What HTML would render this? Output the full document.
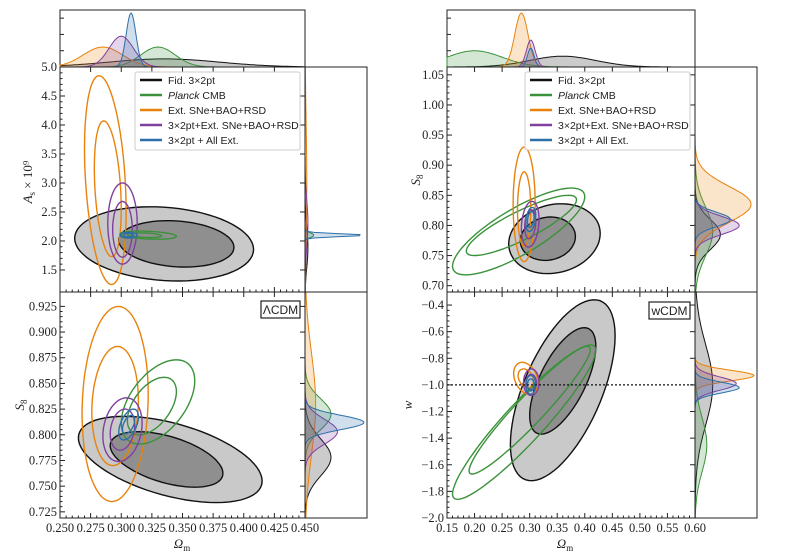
<!DOCTYPE html>
<html><head><meta charset="utf-8"><style>
body{margin:0;background:#fff;}
svg{display:block;}
</style></head><body>
<svg id="c" width="800" height="558" viewBox="0 0 800 558" xmlns="http://www.w3.org/2000/svg"></svg>
<script>
// series: 0 black, 1 green, 2 orange, 3 purple, 4 blue
const seriesNames = ["Fid. 3×2pt","Planck CMB","Ext. SNe+BAO+RSD","3×2pt+Ext. SNe+BAO+RSD","3×2pt + All Ext."];
const seriesColors = ["#111111","#3a923a","#e8820c","#8040a0","#2c6fa8"];
// contours: [series, cx, cy, sx, sy, rho]
const ulContours = [[0,0.335,1.95,0.073,0.64,-0.15],[0,0.345,1.95,0.047,0.4,-0.15],[2,0.287,3.05,0.017,1.8,-0.3],[2,0.289,2.9,0.011,1.17,-0.3],[3,0.301,2.3,0.012,0.7,0],[3,0.301,2.2,0.008,0.48,0],[1,0.322,2.1,0.023,0.07,-0.3],[1,0.319,2.1,0.014,0.04,-0.3],[4,0.306,2.1,0.007,0.05,0],[4,0.306,2.1,0.004,0.03,0]];
const llContours = [[0,0.34,0.776,0.075,0.042,-0.5],[0,0.337,0.776,0.046,0.027,-0.5],[2,0.295,0.83,0.027,0.095,0.1],[2,0.295,0.828,0.019,0.058,0.1],[1,0.33,0.832,0.03,0.041,0.5],[1,0.325,0.828,0.02,0.028,0.5],[3,0.301,0.805,0.016,0.031,0.2],[3,0.301,0.805,0.01,0.02,0.2],[4,0.306,0.81,0.008,0.015,0.5],[4,0.306,0.81,0.005,0.009,0.5]];
const urContours = [[0,0.345,0.778,0.083,0.058,0.15],[0,0.333,0.778,0.05,0.036,0.1],[1,0.28,0.79,0.12,0.072,0.8],[1,0.285,0.8,0.1,0.05,0.85],[2,0.29,0.835,0.02,0.095,0],[2,0.29,0.827,0.012,0.062,0],[3,0.301,0.802,0.016,0.038,0.2],[3,0.301,0.802,0.01,0.024,0.2],[4,0.302,0.81,0.009,0.02,0.3],[4,0.302,0.81,0.006,0.013,0.3]];
const lrContours = [[0,0.36,-1.04,0.095,0.68,0.6],[0,0.36,-0.97,0.06,0.4,0.65],[1,0.29,-1.28,0.13,0.58,0.93],[1,0.30,-1.19,0.11,0.48,0.95],[2,0.293,-0.95,0.022,0.12,-0.3],[2,0.293,-0.95,0.014,0.07,-0.3],[3,0.303,-0.98,0.014,0.1,0],[3,0.303,-0.98,0.009,0.06,0],[4,0.302,-1.0,0.009,0.07,0],[4,0.302,-1.0,0.006,0.045,0]];
// marginals: [series, mean, sd, relHeight]
const lTopMarg = [[0,0.335,0.045,0.15],[1,0.33,0.014,0.37],[2,0.285,0.016,0.37],[3,0.3,0.01,0.57],[4,0.308,0.004,1.0]];
const lAsMarg = [[0,1.9,0.35,0.05],[1,2.1,0.04,0.15],[2,3.0,1.1,0.03],[3,2.3,0.4,0.05],[4,2.1,0.025,1.0]];
const lS8Marg = [[0,0.778,0.018,0.44],[1,0.82,0.015,0.44],[2,0.83,0.05,0.18],[3,0.803,0.012,0.55],[4,0.812,0.007,1.0]];
const rTopMarg = [[0,0.36,0.06,0.2],[1,0.2,0.05,0.3],[2,0.285,0.012,1.0],[3,0.302,0.008,0.5],[4,0.302,0.006,0.35]];
const rS8Marg = [[0,0.785,0.025,0.43],[1,0.79,0.04,0.3],[2,0.835,0.03,0.95],[3,0.8,0.015,0.75],[4,0.81,0.012,0.6]];
const rWMarg = [[0,-1.0,0.3,0.3],[1,-1.45,0.2,0.2],[2,-0.93,0.04,1.0],[3,-0.99,0.05,0.7],[4,-1.02,0.04,0.75]];
const lXTicks = [0.25,0.275,0.3,0.325,0.35,0.375,0.4,0.425,0.45];
const rXTicks = [0.15,0.2,0.25,0.3,0.35,0.4,0.45,0.5,0.55,0.6];
const ulYTicks = [1.5,2.0,2.5,3.0,3.5,4.0,4.5,5.0];
const llYTicks = [0.725,0.75,0.775,0.8,0.825,0.85,0.875,0.9,0.925];
const urYTicks = [0.7,0.75,0.8,0.85,0.9,0.95,1.0,1.05];
const lrYTicks = [-2.0,-1.8,-1.6,-1.4,-1.2,-1.0,-0.8,-0.6,-0.4];

const SERIF='"Liberation Serif", serif';
const SANS='"Liberation Sans", sans-serif';
const svg=document.getElementById('c');
const NS='http://www.w3.org/2000/svg';
function mk(tag,at,parent){const e=document.createElementNS(NS,tag);for(const k in at)e.setAttribute(k,at[k]);(parent||svg).appendChild(e);return e;}
function lin(d0,d1,p0,p1){return v=>p0+(v-d0)/(d1-d0)*(p1-p0);}
function contourPath(c,sx,sy){let d='';for(let i=0;i<=72;i++){const t=i/72*2*Math.PI;const x=c[1]+c[3]*Math.cos(t);const y=c[2]+c[4]*(c[5]*Math.cos(t)+Math.sqrt(1-c[5]*c[5])*Math.sin(t));d+=(i?'L':'M')+sx(x).toFixed(1)+','+sy(y).toFixed(1);}return d+'Z';}
function fmt(v,dp){return v.toFixed(dp).replace('-','−');}
const tkAt={'font-family':SERIF,'font-size':12.5,fill:'#222'};

function panel(name,cons,sx,sy,x0,x1,y0,y1,yt,ydp,showX,xt,xdp){
  const g=mk('g',{});
  
  
  const cp=mk('clipPath',{id:'cp'+name},g);mk('rect',{x:x0,y:y0,width:x1-x0,height:y1-y0},cp);
  const cg=mk('g',{'clip-path':'url(#cp'+name+')'},g);
  cons.forEach((c,i)=>{
    let fill='none';
    if(c[0]===0) fill=(i===0)?'#c9c9c9':'#8f8f8f';
    const p=mk('path',{d:contourPath(c,sx,sy),fill:fill,stroke:seriesColors[c[0]],'stroke-width':1.4},cg);
    
    
  });
  mk('rect',{x:x0,y:y0,width:x1-x0,height:y1-y0,fill:'none',stroke:'#222','stroke-width':1},g);
  yt.forEach(v=>{const y=sy(v);mk('line',{x1:x0,x2:x0+5,y1:y,y2:y,stroke:'#222'},g);mk('line',{x1:x1,x2:x1-5,y1:y,y2:y,stroke:'#222'},g);
    const t=mk('text',Object.assign({x:x0-3,y:y+4,'text-anchor':'end'},tkAt),g);t.textContent=fmt(v,ydp);
    
    });
  for(let i=0;i<yt.length-1;i++){for(let k=1;k<5;k++){const y=sy(yt[i]+(yt[i+1]-yt[i])*k/5);mk('line',{x1:x0,x2:x0+2.5,y1:y,y2:y,stroke:'#222'},g);}}
  xt.forEach((v,i)=>{const x=sx(v);mk('line',{x1:x,x2:x,y1:y1,y2:y1-5,stroke:'#222'},g);mk('line',{x1:x,x2:x,y1:y0,y2:y0+5,stroke:'#222'},g);
    if(showX){const t=mk('text',Object.assign({x:x,y:y1+14,'text-anchor':'middle'},tkAt),g);t.textContent=fmt(v,xdp);
      
      }
    if(i<xt.length-1){for(let k=1;k<5;k++){const xx=sx(v+(xt[i+1]-v)*k/5);mk('line',{x1:xx,x2:xx,y1:y1,y2:y1-2.5,stroke:'#222'},g);}}});
  return g;
}
function margTop(name,m,sx,x0,x1,yb,yt){
  const g=mk('g',{});
  
  
  mk('path',{d:`M${x0},${yb}V${yt}H${x1}V${yb}`,fill:'none',stroke:'#222'},g);
  const h=yb-yt-3;
  m.forEach(s=>{let d='M'+x0+','+yb;for(let i=0;i<=200;i++){const v=sx.inv(x0+(x1-x0)*i/200);const yy=yb-h*s[3]*Math.exp(-0.5*((v-s[1])/s[2])**2);d+='L'+(x0+(x1-x0)*i/200).toFixed(1)+','+yy.toFixed(1);}d+='L'+x1+','+yb+'Z';
    const p=mk('path',{d:d,fill:seriesColors[s[0]],'fill-opacity':0.22,stroke:seriesColors[s[0]],'stroke-width':1},g);
    
    });
  for(let k=1;k<4;k++){const y=yb-(yb-yt)*k/3.5;mk('line',{x1:x0,x2:x0+4,y1:y,y2:y,stroke:'#222'},g);}
}
function margRight(name,m,sy,y0,y1,xl,xr){
  const g=mk('g',{});
  
  
  const cp=mk('clipPath',{id:'cp'+name},g);mk('rect',{x:xl,y:y0,width:xr-xl,height:y1-y0},cp);
  const cg=mk('g',{'clip-path':'url(#cp'+name+')'},g);
  const w=xr-xl-3;
  m.forEach(s=>{let d='M'+xl+','+y0;for(let i=0;i<=200;i++){const y=y0+(y1-y0)*i/200;const v=sy.inv(y);const xx=xl+w*s[3]*Math.exp(-0.5*((v-s[1])/s[2])**2);d+='L'+xx.toFixed(1)+','+y.toFixed(1);}d+='L'+xl+','+y1+'Z';
    const p=mk('path',{d:d,fill:seriesColors[s[0]],'fill-opacity':0.22,stroke:seriesColors[s[0]],'stroke-width':1},cg);
    
    });
  mk('path',{d:`M${xl},${y0}H${xr}V${y1}H${xl}Z`,fill:'none',stroke:'#222'},g);
}
function scale(d0,d1,p0,p1){const f=lin(d0,d1,p0,p1);f.inv=lin(p0,p1,d0,d1);return f;}
function legend(x,y){
  const g=mk('g',{});
  
  
  mk('rect',{x:x,y:y,width:165,height:78,fill:'#fff','fill-opacity':0.85,stroke:'#ccc',rx:2},g);
  seriesNames.forEach((n,i)=>{const yy=y+8+i*15;mk('line',{x1:x+5,x2:x+27,y1:yy,y2:yy,stroke:seriesColors[i],'stroke-width':2.5},g);
    const t=mk('text',{x:x+33,y:yy+4,'font-family':SANS,'font-size':10.5,fill:'#222'},g);
    
    
    if(i===1){const a=mk('tspan',{'font-style':'italic'},t);a.textContent='Planck';const b=mk('tspan',{},t);b.textContent=' CMB';}else t.textContent=n;});
}
function label(txt,x,y,rot,name,sub,tail){
  const t=mk('text',{x:x,y:y,'font-family':SERIF,'font-size':13,fill:'#222','text-anchor':'middle',transform:rot?`rotate(-90 ${x} ${y})`:''});
  
  
  const m=mk('tspan',{'font-style':'italic'},t);m.textContent=txt;
  if(sub){const s=mk('tspan',{'font-size':9,dy:3},t);s.textContent=sub;}
  if(tail){const s=mk('tspan',{dy:sub?-3:0},t);s.textContent=tail;}
}
function boxLabel(txt,x,y,w,name){
  const g=mk('g',{});
  
  
  mk('rect',{x:x,y:y,width:w,height:17,fill:'#fff',stroke:'#222','stroke-width':1.2},g);
  const t=mk('text',{x:x+w/2,y:y+13,'text-anchor':'middle','font-family':SANS,'font-size':12,fill:'#222'},g);t.textContent=txt;
}
// left
const lx=scale(0.25,0.45,60,305);
const ulY=scale(1.12,5.0,292,67);
const llY=scale(0.719,0.939,518,292);
margTop('left-top-marginal',lTopMarg,lx,60,305,67,10);
panel('as-vs-omegam-panel',ulContours,lx,ulY,60,305,67,292,ulYTicks,1,false,lXTicks,3);
panel('s8-vs-omegam-lcdm-panel',llContours,lx,llY,60,305,292,518,llYTicks,3,true,lXTicks,3);
margRight('as-marginal',lAsMarg,ulY,67,292,305,367);
margRight('s8-marginal-left',lS8Marg,llY,292,518,305,367);
legend(135,72);
boxLabel('ΛCDM',261,301,39,'lcdm-label');
// right
const rx=scale(0.15,0.6,447,695);
const urY=scale(0.6895,1.063,292,67);
const lrY=scale(-2.0,-0.302,518,292);
margTop('right-top-marginal',rTopMarg,rx,447,695,67,10);
panel('s8-vs-omegam-wcdm-panel',urContours,rx,urY,447,695,67,292,urYTicks,2,false,rXTicks,2);
panel('w-vs-omegam-panel',lrContours,rx,lrY,447,695,292,518,lrYTicks,1,true,rXTicks,2);
const dl=mk('line',{x1:447,x2:695,y1:lrY(-1),y2:lrY(-1),stroke:'#111','stroke-dasharray':'2,2','stroke-width':1.3});


margRight('s8-marginal-right',rS8Marg,urY,67,292,695,757);
margRight('w-marginal',rWMarg,lrY,292,518,695,757);
legend(525,72);
boxLabel('wCDM',649,302,41,'wcdm-label');
label('Ω',182,548,false,'x-axis-title-left','m');
label('Ω',565,548,false,'x-axis-title-right','m');
label('A',32,182,true,'y-axis-title-as','s',' × 10⁹');
label('S',24,405,true,'y-axis-title-s8-left','8');
label('S',420,180,true,'y-axis-title-s8-right','8');
label('w',412,405,true,'y-axis-title-w','');
</script>
</body></html>
